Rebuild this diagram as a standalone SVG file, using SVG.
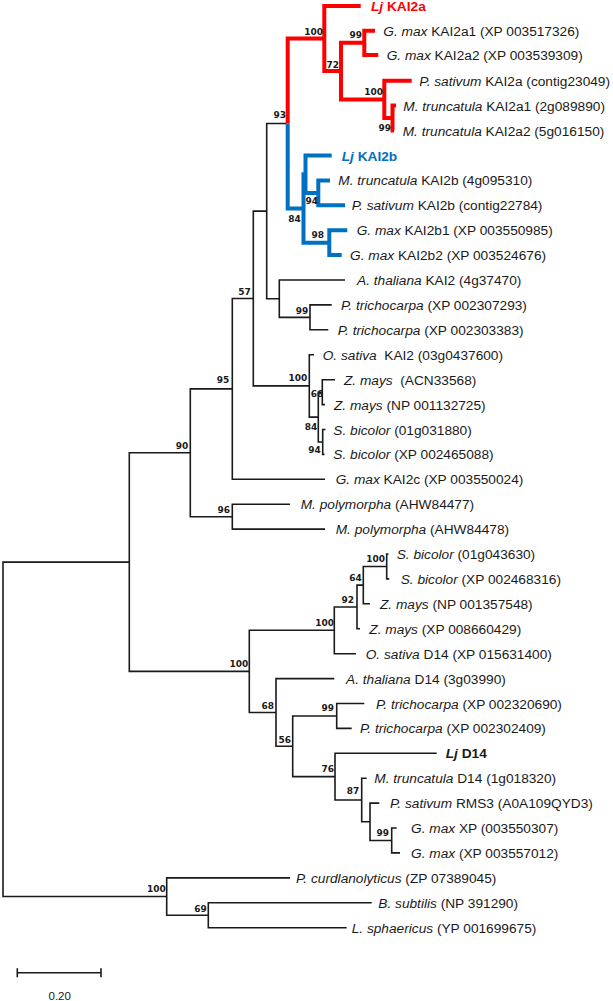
<svg xmlns="http://www.w3.org/2000/svg" width="613" height="1001" viewBox="0 0 613 1001">
<style>
.br{fill:none;stroke:#1a1a1a;stroke-width:1.6;stroke-linejoin:miter}
.red{fill:none;stroke:#ff0000;stroke-width:4;stroke-linejoin:miter}
.blue{fill:none;stroke:#0070c0;stroke-width:4;stroke-linejoin:miter}
.lf{font-family:"Liberation Sans",Arial,sans-serif;font-size:13.7px;fill:#1a1a1a}
.bs{font-family:"DejaVu Sans",Verdana,sans-serif;font-weight:bold;font-size:9px;text-anchor:end;fill:#1a1a1a}
.i{font-style:italic}
.b{font-weight:bold}
.rt{fill:#ff0000}
.bt{fill:#0070c0}
</style>
<rect width="613" height="1001" fill="#ffffff"/>
<g id="branches">
<g id="branches-red">
<path class="red" d="M287.7 123.5V38.6H324.3"/>
<path class="red" d="M360.7 6H324.3V71.1H341"/>
<path class="red" d="M364.3 42.8H341V99.4H384.3"/>
<path class="red" d="M375 30.7H364.3V55H378.3"/>
<path class="red" d="M411.7 80.7H384.3V118H392.5"/>
<path class="red" d="M396 105.5H392.5V130.6H394"/>
</g>
<g id="branches-blue">
<path class="blue" d="M287.7 123.5V208.5H303.5"/>
<path class="blue" d="M305.5 174.2H303.5V242.7H329.3"/>
<path class="blue" d="M331.7 155.5H305.5V192.9H318.3"/>
<path class="blue" d="M330 180.4H318.3V205.3H345"/>
<path class="blue" d="M347.3 230.2H329.3V255.1H341.7"/>
</g>
<g id="branches-black">
<path class="br" d="M286 123.5H266.7V298.7H279.3"/>
<path class="br" d="M345 280H279.3V317.4H310"/>
<path class="br" d="M331.7 304.9H310V329.8H328.3"/>
<path class="br" d="M266.7 211.1H253.3V385.9H309.3"/>
<path class="br" d="M314 354.7H309.3V417.1H318.3"/>
<path class="br" d="M322.3 392.2H318.3V442H322.7"/>
<path class="br" d="M335 379.7H322.3V404.6H325"/>
<path class="br" d="M325.5 429.5H322.7V454.4H324.5"/>
<path class="br" d="M253.3 298.5H232.3V479.3H325"/>
<path class="br" d="M290 504.2H232.3V529.1H325"/>
<path class="br" d="M232.3 388.9H190.3V516.7H232.3"/>
<path class="br" d="M190.3 452.8H129.3V671.4H249.3"/>
<path class="br" d="M334.3 630.3H249.3V712.5H276"/>
<path class="br" d="M357 607H334.3V653.7H356"/>
<path class="br" d="M363.3 585.1H357V628.8H360"/>
<path class="br" d="M386.7 566.5H363.3V603.8H370"/>
<path class="br" d="M388.5 554H386.7V578.9H389.3"/>
<path class="br" d="M334.3 678.6H276V746.3H292.7"/>
<path class="br" d="M336.7 716H292.7V776.6H335"/>
<path class="br" d="M364.3 703.5H336.7V728.4H351.7"/>
<path class="br" d="M436.7 753.3H335V800H361.7"/>
<path class="br" d="M366.7 778.2H361.7V821.8H370"/>
<path class="br" d="M379.3 803.1H370V840.5H391.7"/>
<path class="br" d="M396.7 828H391.7V852.9H400"/>
<path class="br" d="M129.3 562.1H3V896.5H166.7"/>
<path class="br" d="M290 877.9H166.7V915.2H208.3"/>
<path class="br" d="M371.7 902.8H208.3V927.7H346.7"/>
</g>
</g>
<g id="leaf-Lj-KAI2a"><text class="lf b rt" x="371" y="11"><tspan class="i">Lj</tspan> KAI2a</text></g>
<g id="leaf-Gmax-KAI2a1"><text class="lf" x="383.3" y="35.7"><tspan class="i">G. max</tspan> KAI2a1 (XP 003517326)</text></g>
<g id="leaf-Gmax-KAI2a2"><text class="lf" x="386.7" y="60"><tspan class="i">G. max</tspan> KAI2a2 (XP 003539309)</text></g>
<g id="leaf-Psat-KAI2a"><text class="lf" x="419.3" y="85.7"><tspan class="i">P. sativum</tspan> KAI2a (contig23049)</text></g>
<g id="leaf-Mtr-KAI2a1"><text class="lf" x="403.3" y="110.5"><tspan class="i">M. truncatula</tspan> KAI2a1 (2g089890)</text></g>
<g id="leaf-Mtr-KAI2a2"><text class="lf" x="402.7" y="135.6"><tspan class="i">M. truncatula</tspan> KAI2a2 (5g016150)</text></g>
<g id="leaf-Lj-KAI2b"><text class="lf b bt" x="341.7" y="160.5"><tspan class="i">Lj</tspan> KAI2b</text></g>
<g id="leaf-Mtr-KAI2b"><text class="lf" x="338.3" y="185.4"><tspan class="i">M. truncatula</tspan> KAI2b (4g095310)</text></g>
<g id="leaf-Psat-KAI2b"><text class="lf" x="351.7" y="210.3"><tspan class="i">P. sativum</tspan> KAI2b (contig22784)</text></g>
<g id="leaf-Gmax-KAI2b1"><text class="lf" x="356.7" y="235.2"><tspan class="i">G. max</tspan> KAI2b1 (XP 003550985)</text></g>
<g id="leaf-Gmax-KAI2b2"><text class="lf" x="350" y="260.1"><tspan class="i">G. max</tspan> KAI2b2 (XP 003524676)</text></g>
<g id="leaf-Ath-KAI2"><text class="lf" x="357" y="285"><tspan class="i">A. thaliana</tspan> KAI2 (4g37470)</text></g>
<g id="leaf-Ptri-1"><text class="lf" x="341" y="309.9"><tspan class="i">P. trichocarpa</tspan> (XP 002307293)</text></g>
<g id="leaf-Ptri-2"><text class="lf" x="337.7" y="334.8"><tspan class="i">P. trichocarpa</tspan> (XP 002303383)</text></g>
<g id="leaf-Osat-KAI2"><text class="lf" xml:space="preserve" x="322.7" y="359.7"><tspan class="i">O. sativa</tspan>  KAI2 (03g0437600)</text></g>
<g id="leaf-Zmay-ACN"><text class="lf" xml:space="preserve" x="344" y="384.7"><tspan class="i">Z. mays</tspan>  (ACN33568)</text></g>
<g id="leaf-Zmay-NP1"><text class="lf" x="334" y="409.6"><tspan class="i">Z. mays</tspan> (NP 001132725)</text></g>
<g id="leaf-Sbic-01g031880"><text class="lf" x="333.3" y="434.5"><tspan class="i">S. bicolor</tspan> (01g031880)</text></g>
<g id="leaf-Sbic-XP1"><text class="lf" x="333.3" y="459.4"><tspan class="i">S. bicolor</tspan> (XP 002465088)</text></g>
<g id="leaf-Gmax-KAI2c"><text class="lf" x="335.7" y="484.3"><tspan class="i">G. max</tspan> KAI2c (XP 003550024)</text></g>
<g id="leaf-Mpol-1"><text class="lf" x="300.7" y="509.2"><tspan class="i">M. polymorpha</tspan> (AHW84477)</text></g>
<g id="leaf-Mpol-2"><text class="lf" x="335.7" y="534.1"><tspan class="i">M. polymorpha</tspan> (AHW84478)</text></g>
<g id="leaf-Sbic-01g043630"><text class="lf" x="396.7" y="559"><tspan class="i">S. bicolor</tspan> (01g043630)</text></g>
<g id="leaf-Sbic-XP2"><text class="lf" x="400.7" y="583.9"><tspan class="i">S. bicolor</tspan> (XP 002468316)</text></g>
<g id="leaf-Zmay-NP2"><text class="lf" x="380" y="608.8"><tspan class="i">Z. mays</tspan> (NP 001357548)</text></g>
<g id="leaf-Zmay-XP"><text class="lf" x="369.3" y="633.8"><tspan class="i">Z. mays</tspan> (XP 008660429)</text></g>
<g id="leaf-Osat-D14"><text class="lf" x="365.7" y="658.7"><tspan class="i">O. sativa</tspan> D14 (XP 015631400)</text></g>
<g id="leaf-Ath-D14"><text class="lf" x="346" y="683.6"><tspan class="i">A. thaliana</tspan> D14 (3g03990)</text></g>
<g id="leaf-Ptri-3"><text class="lf" x="376" y="708.5"><tspan class="i">P. trichocarpa</tspan> (XP 002320690)</text></g>
<g id="leaf-Ptri-4"><text class="lf" x="360" y="733.4"><tspan class="i">P. trichocarpa</tspan> (XP 002302409)</text></g>
<g id="leaf-Lj-D14"><text class="lf b" x="445.7" y="758.3"><tspan class="i">Lj</tspan> D14</text></g>
<g id="leaf-Mtr-D14"><text class="lf" x="374.3" y="783.2"><tspan class="i">M. truncatula</tspan> D14 (1g018320)</text></g>
<g id="leaf-Psat-RMS3"><text class="lf" x="390" y="808.1"><tspan class="i">P. sativum</tspan> RMS3 (A0A109QYD3)</text></g>
<g id="leaf-Gmax-XP1"><text class="lf" x="411" y="833"><tspan class="i">G. max</tspan> XP (003550307)</text></g>
<g id="leaf-Gmax-XP2"><text class="lf" x="411" y="857.9"><tspan class="i">G. max</tspan> (XP 003557012)</text></g>
<g id="leaf-Pcur"><text class="lf" x="296" y="882.9"><tspan class="i">P. curdlanolyticus</tspan> (ZP 07389045)</text></g>
<g id="leaf-Bsub"><text class="lf" x="378.3" y="907.8"><tspan class="i">B. subtilis</tspan> (NP 391290)</text></g>
<g id="leaf-Lsph"><text class="lf" x="351.7" y="932.7"><tspan class="i">L. sphaericus</tspan> (YP 001699675)</text></g>
<g id="node-100a"><text class="bs" x="323" y="35">100</text></g>
<g id="node-99a"><text class="bs" x="362" y="38.3">99</text></g>
<g id="node-72"><text class="bs" x="339" y="68.3">72</text></g>
<g id="node-100b"><text class="bs" x="383" y="95">100</text></g>
<g id="node-99b"><text class="bs" x="391" y="130.5">99</text></g>
<g id="node-93"><text class="bs" x="286" y="118.3">93</text></g>
<g id="node-84a"><text class="bs" x="300.7" y="221.7">84</text></g>
<g id="node-94a"><text class="bs" x="318" y="204">94</text></g>
<g id="node-98"><text class="bs" x="324" y="238.3">98</text></g>
<g id="node-99c"><text class="bs" x="308.3" y="314">99</text></g>
<g id="node-57"><text class="bs" x="250.7" y="295">57</text></g>
<g id="node-100c"><text class="bs" x="307.3" y="380.7">100</text></g>
<g id="node-66"><text class="bs" x="323.3" y="396.7">66</text></g>
<g id="node-84b"><text class="bs" x="317.3" y="430">84</text></g>
<g id="node-94b"><text class="bs" x="320.7" y="453.3">94</text></g>
<g id="node-95"><text class="bs" x="229.3" y="383.3">95</text></g>
<g id="node-90"><text class="bs" x="188.3" y="449">90</text></g>
<g id="node-96"><text class="bs" x="230" y="513.3">96</text></g>
<g id="node-100d"><text class="bs" x="385" y="562.3">100</text></g>
<g id="node-64"><text class="bs" x="361.7" y="580.7">64</text></g>
<g id="node-92"><text class="bs" x="354" y="603">92</text></g>
<g id="node-100e"><text class="bs" x="334" y="625.5">100</text></g>
<g id="node-100f"><text class="bs" x="248.3" y="666.7">100</text></g>
<g id="node-68"><text class="bs" x="274" y="708.7">68</text></g>
<g id="node-99d"><text class="bs" x="334" y="710.7">99</text></g>
<g id="node-56"><text class="bs" x="291" y="742.7">56</text></g>
<g id="node-76"><text class="bs" x="334" y="772.3">76</text></g>
<g id="node-87"><text class="bs" x="359.3" y="794.3">87</text></g>
<g id="node-99e"><text class="bs" x="389" y="835.7">99</text></g>
<g id="node-100g"><text class="bs" x="165.7" y="892.3">100</text></g>
<g id="node-69"><text class="bs" x="206.7" y="912.3">69</text></g>
<g id="scale-bar">
<path class="br" d="M17.3 972.7H101M17.3 968.3V977.3M101 968.3V977.3"/>
<text class="lf" style="font-size:11.5px" x="59.7" y="999.5" text-anchor="middle">0.20</text>
</g>
</svg>
